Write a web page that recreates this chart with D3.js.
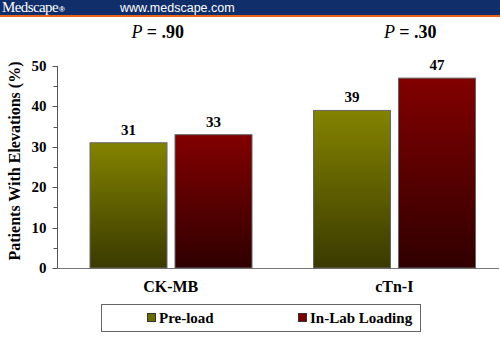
<!DOCTYPE html>
<html><head><meta charset="utf-8">
<script src="https://cdn.jsdelivr.net/npm/d3@7"></script>
<style>html,body{margin:0;padding:0;background:#fff;}svg{display:block;}
</style>
</head><body>
<script>
const categories = ["CK-MB", "cTn-I"];
const seriesNames = ["Pre-load", "In-Lab Loading"];
const preLoad = [31, 39];
const inLabLoading = [33, 47];
const pLabels = ["= .90", "= .30"];
const yTicks = [0, 10, 20, 30, 40, 50];

const W = 500, H = 344;
const SERIF = "Liberation Serif";
const SANS = "Liberation Sans";
const svg = d3.select("body").append("svg").attr("width", W).attr("height", H);

// header
svg.append("rect").attr("x",0).attr("y",0).attr("width",W).attr("height",15).attr("fill","#0f2e6a");
svg.append("rect").attr("x",0).attr("y",15).attr("width",W).attr("height",2).attr("fill","#e8641b");
const mt = svg.append("text").style("font-family",SERIF).attr("x",2).attr("y",12).attr("fill","#fff")
  .attr("font-size",15).attr("letter-spacing","-0.6");
mt.append("tspan").text("Medscape");
mt.append("tspan").style("font-family",SANS).attr("font-size",8).attr("font-weight","bold").attr("dx",1).text("®");
svg.append("text").style("font-family",SANS).attr("x",120).attr("y",12).attr("fill","#fff")
  .attr("font-size",12.5).text("www.medscape.com");

const defs = svg.append("defs");
const grads = [["g0","#838300","#3a3a00","#6b6b00"],["g1","#820000","#300000","#7a0000"]];
grads.forEach(([id,a,b])=>{
  const g = defs.append("linearGradient").attr("id",id).attr("x1",0).attr("y1",0).attr("x2",0).attr("y2",1);
  g.append("stop").attr("offset","0%").attr("stop-color",a);
  g.append("stop").attr("offset","100%").attr("stop-color",b);
});

const y = d3.scaleLinear().domain([0,50]).range([268,66]);
const x0 = d3.scaleBand().domain(categories).range([59,506]);
const x1 = d3.scaleBand().domain(seriesNames).range([31,193]).paddingInner(8/85);

// y axis
const yAxisG = svg.append("g").attr("transform","translate(57.5,0)");
yAxisG.append("line").attr("y1",y(0)).attr("y2",y(50)).attr("stroke","#555");
const minor = d3.range(0,51,5);
yAxisG.selectAll("line.t").data(minor).join("line").attr("class","t")
  .attr("x1",d=>d%10===0?-5:-4).attr("x2",0).attr("y1",d=>Math.round(y(d))+0.5).attr("y2",d=>Math.round(y(d))+0.5)
  .attr("stroke","#555");
yAxisG.selectAll("text").data(yTicks).join("text").style("font-family",SERIF)
  .attr("x",-11).attr("y",d=>y(d)+5).attr("text-anchor","end")
  .attr("font-weight","bold").attr("font-size",15).text(d=>d);

// x axis line
svg.append("line").attr("x1",57).attr("x2",499).attr("y1",268.5).attr("y2",268.5).attr("stroke","#777");

// bars
const rows = categories.map((c,i)=>({cat:c, vals:[preLoad[i], inLabLoading[i]]}));
const grp = svg.selectAll("g.cat").data(rows).join("g").attr("class","cat")
  .attr("transform",d=>`translate(${x0(d.cat)},0)`);
grp.selectAll("rect").data(d=>d.vals.map((v,j)=>({s:seriesNames[j], v, j})))
  .join("rect")
  .attr("x",d=>x1(d.s)).attr("width",x1.bandwidth())
  .attr("y",d=>y(d.v)).attr("height",d=>y(0)-y(d.v))
  .attr("fill",d=>`url(#g${d.j})`).attr("stroke","#666").attr("stroke-width",1);
grp.selectAll("text.v").data(d=>d.vals.map((v,j)=>({s:seriesNames[j], v})))
  .join("text").attr("class","v").style("font-family",SERIF)
  .attr("x",d=>x1(d.s)+x1.bandwidth()/2).attr("y",d=>y(d.v)-8)
  .attr("text-anchor","middle").attr("font-weight","bold").attr("font-size",15)
  .text(d=>d.v);

// category labels
svg.selectAll("text.catl").data(categories).join("text").attr("class","catl").style("font-family",SERIF)
  .attr("x",d=>x0(d)+x0.bandwidth()/2).attr("y",292)
  .attr("text-anchor","middle").attr("font-weight","bold").attr("font-size",16)
  .text(d=>d);

// P labels
const pOff = [-13, 16];
categories.forEach((c,i)=>{
  const t = svg.append("text").style("font-family",SERIF).attr("x",x0(c)+x0.bandwidth()/2+pOff[i]).attr("y",38)
    .attr("text-anchor","middle").attr("font-size",18);
  t.append("tspan").attr("font-style","italic").text("P ");
  t.append("tspan").attr("font-weight","bold").text(pLabels[i]);
});

// y title
svg.append("text").style("font-family",SERIF).attr("transform","translate(20,161) rotate(-90)")
  .attr("text-anchor","middle").attr("font-weight","bold").attr("font-size",16)
  .text("Patients With Elevations (%)");

// legend
svg.append("rect").attr("x",101.5).attr("y",304.5).attr("width",319).attr("height",27)
  .attr("fill","#fff").attr("stroke","#666");
const legX = [147, 298];
seriesNames.forEach((s,i)=>{
  svg.append("rect").attr("x",legX[i]+0.5).attr("y",313.5).attr("width",8).attr("height",8)
    .attr("fill",grads[i][3]).attr("stroke","#333");
  svg.append("text").style("font-family",SERIF).attr("x",legX[i]+12).attr("y",322.5)
    .attr("font-weight","bold").attr("font-size",15).text(s);
});
</script>
</body></html>
